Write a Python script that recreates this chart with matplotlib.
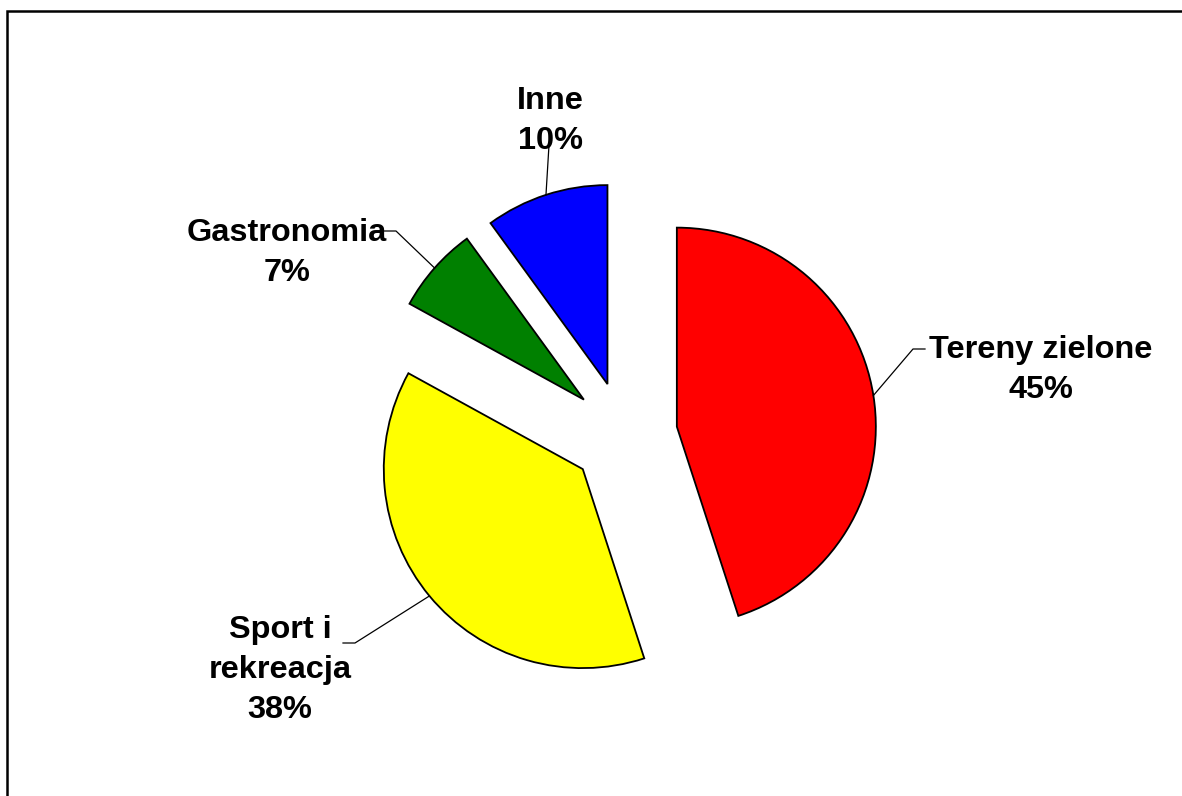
import numpy as np
import matplotlib.pyplot as plt
from matplotlib.patches import Rectangle

# data
labels = ['Tereny zielone', 'Sport i\nrekreacja', 'Gastronomia', 'Inne']
shares = [45, 38, 7, 10]
colors = ['#FF0000', '#FFFF00', '#008000', '#0000FF']

W, H = 1182, 796
fig = plt.figure(figsize=(W / 100, H / 100), dpi=100)
ax = fig.add_axes([0, 0, 1, 1])


def Y(y):
    # image row -> data y
    return H - y


radius = 199
# explode is in data units here (pixels)
wedges, _ = ax.pie(shares, colors=colors, startangle=90, counterclock=False,
                   radius=radius, center=(624, Y(435)),
                   explode=[53.5] * len(shares),
                   wedgeprops=dict(edgecolor='black', linewidth=1.3))
ax.set_xlim(0, W)
ax.set_ylim(0, H)
ax.set_aspect('equal')
ax.set_axis_off()

# label layout (text centre, leader elbow, leader end)
text_pos = [(1041, 370), (280, 670), (287, 253), (550, 121)]
leaders = [[(913, 349), (925, 349)],
           [(355, 643), (343, 643)],
           [(396, 231), (383, 231)],
           [(549, 145)]]

for w, lab, val, tp, pts in zip(wedges, labels, shares, text_pos, leaders):
    mid = np.deg2rad((w.theta1 + w.theta2) / 2)
    cx, cy = w.center
    ax0 = cx + w.r * np.cos(mid)
    ay0 = cy + w.r * np.sin(mid)
    xs = [ax0] + [p[0] for p in pts]
    ys = [ay0] + [Y(p[1]) for p in pts]
    ax.plot(xs, ys, color='black', lw=0.9)
    ax.text(tp[0], Y(tp[1]), f'{lab}\n{val}%', ha='center', va='center',
            multialignment='center', fontsize=23.4, fontweight='bold',
            family='Liberation Sans', linespacing=1.43)

fig.patches.append(Rectangle((7 / W, -0.1), 1.2, (H - 11) / H + 0.1,
                             transform=fig.transFigure, fill=False,
                             edgecolor='black', linewidth=1.8))

fig.savefig('out.png', dpi=100)
